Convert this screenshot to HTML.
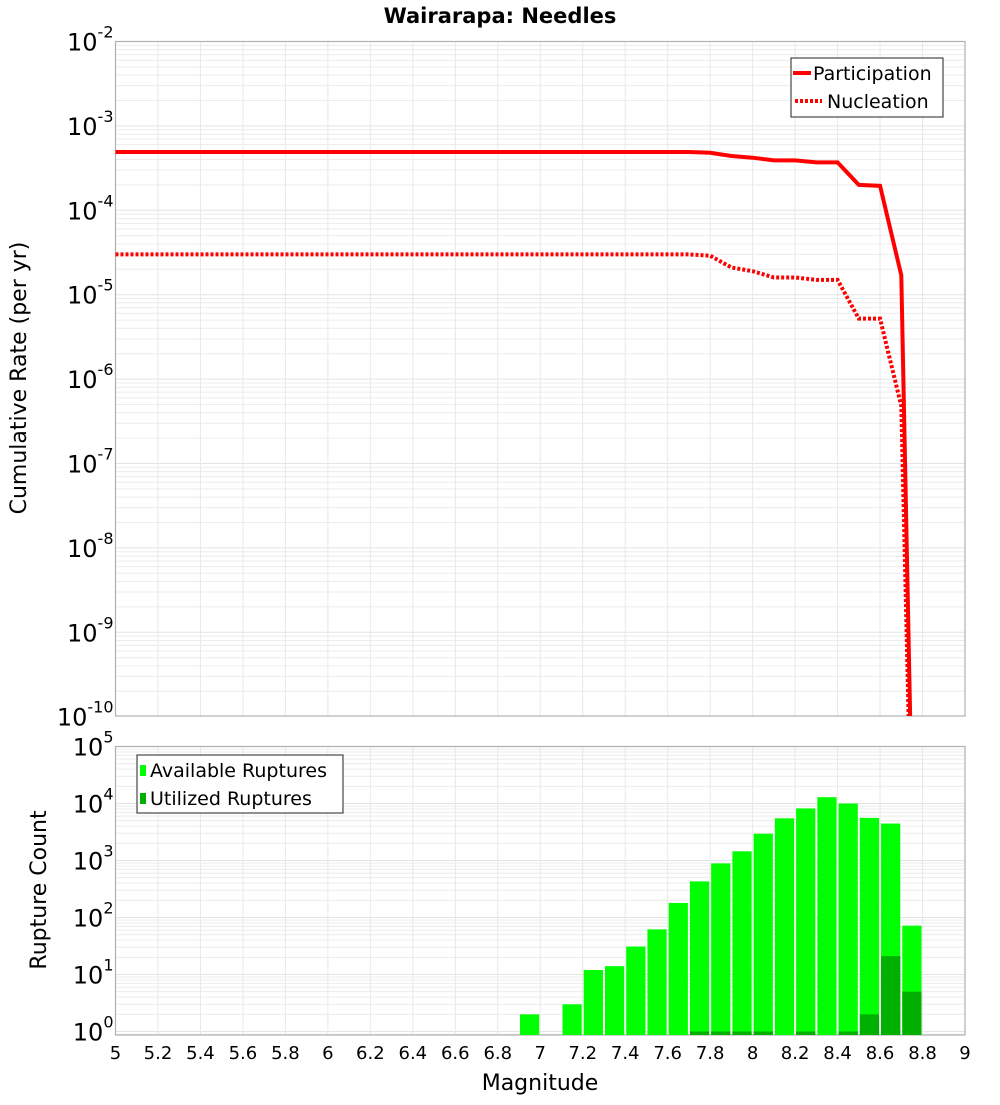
<!DOCTYPE html>
<html><head><meta charset="utf-8"><style>
body{margin:0;background:#fff;}
svg text{font-family:"DejaVu Sans","Liberation Sans",sans-serif;}
</style></head><body>
<svg id="chart" width="1000" height="1100" xmlns="http://www.w3.org/2000/svg">
<text x="500" y="23" text-anchor="middle" font-size="21" font-weight="bold">Wairarapa: Needles</text>
<text transform="translate(26,378) rotate(-90)" text-anchor="middle" font-size="22">Cumulative Rate (per yr)</text>
<text transform="translate(46,890) rotate(-90)" text-anchor="middle" font-size="22">Rupture Count</text>
<text x="540" y="1090" text-anchor="middle" font-size="22">Magnitude</text>
<g id="gtop"></g><g id="gbot"></g><g id="gxt"></g>
</svg>
<script>
const mags=[5.0,5.1,5.2,5.3,5.4,5.5,5.6,5.7,5.8,5.9,6.0,6.1,6.2,6.3,6.4,6.5,6.6,6.7,6.8,6.9,7.0,7.1,7.2,7.3,7.4,7.5,7.6,7.7,7.8,7.9,8.0,8.1,8.2,8.3,8.4,8.5,8.6,8.7,8.8];
const participation=[4.9e-4,4.9e-4,4.9e-4,4.9e-4,4.9e-4,4.9e-4,4.9e-4,4.9e-4,4.9e-4,4.9e-4,4.9e-4,4.9e-4,4.9e-4,4.9e-4,4.9e-4,4.9e-4,4.9e-4,4.9e-4,4.9e-4,4.9e-4,4.9e-4,4.9e-4,4.9e-4,4.9e-4,4.9e-4,4.9e-4,4.9e-4,4.9e-4,4.8e-4,4.4e-4,4.2e-4,3.9e-4,3.9e-4,3.7e-4,3.7e-4,2.0e-4,1.95e-4,1.7e-5,5e-18];
const nucleation=[3.0e-5,3.0e-5,3.0e-5,3.0e-5,3.0e-5,3.0e-5,3.0e-5,3.0e-5,3.0e-5,3.0e-5,3.0e-5,3.0e-5,3.0e-5,3.0e-5,3.0e-5,3.0e-5,3.0e-5,3.0e-5,3.0e-5,3.0e-5,3.0e-5,3.0e-5,3.0e-5,3.0e-5,3.0e-5,3.0e-5,3.0e-5,3.0e-5,2.9e-5,2.1e-5,1.9e-5,1.6e-5,1.6e-5,1.5e-5,1.5e-5,5.2e-6,5.2e-6,4.8e-7,1e-17];
const binStarts=[6.9,7.1,7.2,7.3,7.4,7.5,7.6,7.7,7.8,7.9,8.0,8.1,8.2,8.3,8.4,8.5,8.6,8.7];
const available=[2,3,12,14,31,62,180,430,890,1450,2950,5500,8200,12900,10000,5600,4450,72];
const utilized=[0,0,0,0,0,0,0,1,1,1,1,0,1,0,1,2,21,5];
const xTicks=["5","5.2","5.4","5.6","5.8","6","6.2","6.4","6.6","6.8","7","7.2","7.4","7.6","7.8","8","8.2","8.4","8.6","8.8","9"];
const NS="http://www.w3.org/2000/svg";
const L=115.5,R=965,T1=41.5,B1=716,T2=746.5,B2=1035;
const xs=m=>L+(m-5)*(R-L)/4;
const y1=v=>T1+(-2-Math.log10(v))*84.4;
const y2=v=>T2+(5-Math.log10(v))*57;
function mk(p,tag,a){const e=document.createElementNS(NS,tag);for(const k in a)e.setAttribute(k,a[k]);p.appendChild(e);return e;}
const gTop=document.getElementById('gtop'),gBot=document.getElementById('gbot'),gXt=document.getElementById('gxt');
const defs=mk(document.getElementById('chart'),'defs',{});
const cp=mk(defs,'clipPath',{id:'c1'});mk(cp,'rect',{x:L,y:T1,width:R-L,height:B1-T1});
function grid(g,T,B,ymap,lo,hi){
 for(let d=lo;d<hi;d++)for(let k=1;k<10;k++){const y=ymap(k*Math.pow(10,d));if(y<T||y>B)continue;
  const l=mk(g,'line',{x1:L,x2:R,y1:y,y2:y,stroke:k==1?'#e4e4e4':'#ececec','stroke-width':1});
  
  }
 for(let i=1;i<20;i++){const x=xs(5+i*0.2);const l=mk(g,'line',{x1:x,x2:x,y1:T,y2:B,stroke:'#e8e8e8','stroke-width':1});
  
  }
 const f=mk(g,'rect',{x:L,y:T,width:R-L,height:B-T,fill:'none',stroke:'#b0b0b0','stroke-width':1.2});
 
 
}
function ylab(g,ymap,lo,hi,dy){
 for(let d=lo;d<=hi;d++){const y=ymap(Math.pow(10,d));
  const t=mk(g,'text',{x:L-2,y:y+dy,'text-anchor':'end','font-size':24});
  
  
  const a=document.createElementNS(NS,'tspan');a.textContent='10';t.appendChild(a);
  const b=document.createElementNS(NS,'tspan');b.setAttribute('dy','-13');b.setAttribute('font-size','16');b.textContent=String(d);t.appendChild(b);}
}
grid(gTop,T1,B1,y1,-10,-2);ylab(gTop,y1,-10,-2,9);
grid(gBot,T2,B2,y2,-1,5);ylab(gBot,y2,0,5,9);
const lg=mk(gTop,'g',{'clip-path':'url(#c1)'});
const pp=mags.map((m,i)=>xs(m)+','+y1(participation[i])).join(' ');
const np=mags.map((m,i)=>xs(m)+','+y1(nucleation[i])).join(' ');
const l1=mk(lg,'polyline',{points:pp,fill:'none',stroke:'#ff0000','stroke-width':4});


const l2=mk(lg,'polyline',{points:np,fill:'none',stroke:'#ff0000','stroke-width':4,'stroke-dasharray':'3,2'});


const leg=mk(gTop,'g',{});


mk(leg,'rect',{x:791,y:58,width:152,height:59,fill:'#fff',stroke:'#222','stroke-width':1});
mk(leg,'line',{x1:793,x2:811,y1:73,y2:73,stroke:'#f00','stroke-width':4});
const t1=mk(leg,'text',{x:813,y:80,'font-size':19});t1.textContent='Participation';
mk(leg,'line',{x1:795,x2:822,y1:101,y2:101,stroke:'#f00','stroke-width':4,'stroke-dasharray':'3,2'});
const t2=mk(leg,'text',{x:827,y:108,'font-size':19});t2.textContent='Nucleation';
const bw=(R-L)/40;
binStarts.forEach((m,i)=>{const x=xs(m)+1,w=bw-2;
 const ya=y2(available[i]);const r=mk(gBot,'rect',{x:x,y:ya,width:w,height:B2-ya,fill:'#00ff00'});
 
 
 if(utilized[i]>0){const yu=y2(utilized[i]);const u=mk(gBot,'rect',{x:x,y:yu,width:w,height:B2-yu,fill:'#00b000'});
  
  }
});
const lg2=mk(gBot,'g',{});


mk(lg2,'rect',{x:137,y:755,width:206,height:58,fill:'#fff',stroke:'#222','stroke-width':1});
mk(lg2,'rect',{x:140,y:765,width:6,height:11,fill:'#00ff00'});
const t3=mk(lg2,'text',{x:150,y:777,'font-size':19});t3.textContent='Available Ruptures';
mk(lg2,'rect',{x:140,y:793,width:6,height:11,fill:'#00b000'});
const t4=mk(lg2,'text',{x:150,y:805,'font-size':19});t4.textContent='Utilized Ruptures';
xTicks.forEach(s=>{const t=mk(gXt,'text',{x:xs(parseFloat(s)),y:1059,'text-anchor':'middle','font-size':18});
 
 
 t.textContent=s;});
</script>
</body></html>
